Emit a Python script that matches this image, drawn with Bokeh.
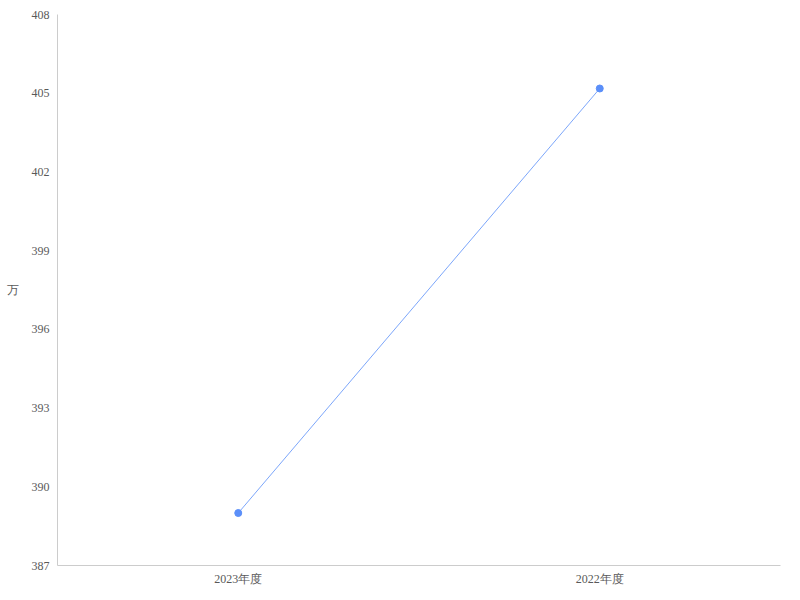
from bokeh.plotting import figure
from bokeh.models import FactorRange, Range1d, FixedTicker, ColumnDataSource
from bokeh.embed import file_html
from bokeh.resources import INLINE

categories = ["2023年度", "2022年度"]
values = [389.0, 405.18]
y_ticks = [387, 390, 393, 396, 399, 402, 405, 408]
unit_label = "万"

src = ColumnDataSource(data=dict(x=categories, y=values))

p = figure(width=784, height=590, output_backend="svg", toolbar_location=None,
           x_range=FactorRange(*categories, range_padding=0),
           y_range=Range1d(387, 408))
p.min_border_left = 57
p.min_border_right = 4
p.min_border_top = 14
p.min_border_bottom = 25
p.outline_line_color = None
p.xgrid.visible = False
p.ygrid.visible = False

p.line("x", "y", source=src, line_color="#5B8FF9", line_width=0.8)
p.scatter("x", "y", source=src, size=7, fill_color="#5B8FF9", line_color="#5B8FF9")

font = "Liberation Serif"
for ax in (p.xaxis[0], p.yaxis[0]):
    ax.axis_line_color = "#cccccc"
    ax.major_tick_line_color = None
    ax.minor_tick_line_color = None
    ax.major_label_text_font = font
    ax.major_label_text_font_size = "12px"
    ax.major_label_text_color = "#595959"

p.xaxis[0].major_label_standoff = 0
p.yaxis[0].major_label_standoff = 2
p.yaxis[0].ticker = FixedTicker(ticks=y_ticks)

p.yaxis[0].axis_label = unit_label
p.yaxis[0].axis_label_orientation = "horizontal"
p.yaxis[0].axis_label_text_font = font
p.yaxis[0].axis_label_text_font_style = "normal"
p.yaxis[0].axis_label_text_font_size = "12px"
p.yaxis[0].axis_label_text_color = "#595959"
p.yaxis[0].axis_label_text_baseline = "bottom"
p.yaxis[0].axis_label_standoff = 10

open("out.html", "w").write(file_html(p, INLINE))
